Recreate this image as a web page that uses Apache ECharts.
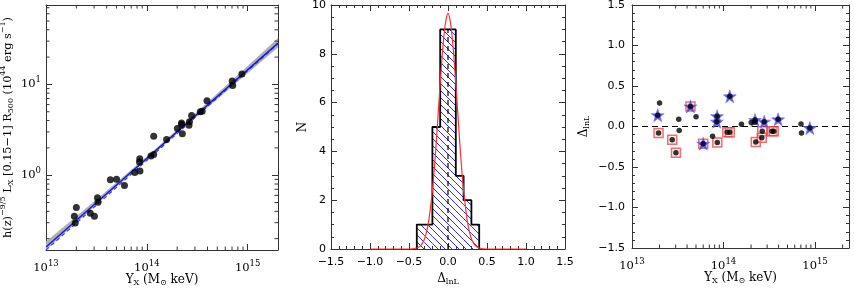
<!DOCTYPE html>
<html><head><meta charset="utf-8">
<script src="https://cdn.jsdelivr.net/npm/echarts@6/dist/echarts.min.js"></script>
<style>html,body{margin:0;padding:0;background:#fff}#c{width:854px;height:288px}</style>
</head><body><div id="c"></div>
<script>
// ---------- data ----------
const yx = [2.00e13, 1.91e13, 1.95e13, 2.75e13, 3.02e13, 3.24e13, 3.28e13, 4.35e13, 5.01e13, 6.0e13,
            7.59e13, 8.51e13, 8.45e13, 8.55e13, 1.10e14, 1.17e14, 1.17e14, 1.57e14, 2.01e14, 2.21e14,
            2.21e14, 2.25e14, 2.65e14, 2.62e14, 2.78e14, 3.39e14, 3.54e14, 3.95e14, 7.03e14, 7.11e14, 8.77e14];
const lx = [0.44, 0.354, 0.297, 0.38, 0.354, 0.566, 0.503, 0.889, 0.904, 0.771,
            1.07, 1.52, 1.40, 1.11, 1.63, 1.69, 2.68, 2.47, 3.26, 3.76,
            3.62, 2.87, 3.88, 3.54, 4.55, 4.99, 5.07, 6.63, 10.9, 9.75, 13.0];
const dlnl = [0.29, 0.14, -0.08, -0.164, -0.324, 0.088, -0.048, 0.248, 0.12, -0.212,
              -0.12, 0.128, 0.06, -0.196, -0.072, -0.072, 0.372, 0.028, 0.048, 0.08,
              0.052, -0.192, -0.06, -0.14, 0.06, -0.06, -0.06, 0.088, 0.032, -0.08, -0.02];
const isStar = [0,1,0,0,0,0,0,1,0,1, 0,1,1,0,0,0,1,0,0,1, 0,0,0,0,1,0,0,1,0,0,1];
const isBox  = [0,0,1,1,1,0,0,1,0,1, 0,0,0,1,1,1,0,0,0,0, 0,1,1,1,0,1,1,0,0,0,0];

const fitX = [1e13, 2e15];
const fitSolid = [0.162, 28.5];
const fitDashed = [0.150, 28.0];
const bandX  = [1e13, 3e13, 1e14, 3e14, 1e15, 2e15];
const bandLo = [0.150, 0.448, 1.47, 4.25, 13.3, 25.6];
const bandHi = [0.186, 0.512, 1.61, 4.76, 16.0, 32.5];

const binEdges  = [-0.4, -0.3, -0.2, -0.1, 0, 0.1, 0.2, 0.3, 0.4];
const binCounts = [1, 1, 5, 9, 9, 3, 2, 1];
const medianLine = [[0, 0], [0, 9]];
const gaussX = [-1.0, -0.5, -0.4, -0.35, -0.325, -0.3, -0.275, -0.25, -0.225, -0.2, -0.175, -0.15, -0.125, -0.1, -0.075, -0.05, -0.025, 0,
                0.025, 0.05, 0.075, 0.1, 0.125, 0.15, 0.175, 0.2, 0.225, 0.25, 0.275, 0.3, 0.325, 0.35, 0.4, 0.5, 1.0];
const gaussY = [0, 0, 0.04, 0.14, 0.25, 0.42, 0.7, 1.1, 1.7, 2.4, 3.3, 4.4, 5.6, 6.8, 7.9, 8.8, 9.4, 9.66,
                9.4, 8.8, 7.9, 6.8, 5.6, 4.4, 3.3, 2.4, 1.7, 1.1, 0.7, 0.42, 0.25, 0.14, 0.04, 0, 0];

const logXMinor = [2e13,3e13,4e13,5e13,6e13,7e13,8e13,9e13, 2e14,3e14,4e14,5e14,6e14,7e14,8e14,9e14, 2e15];
const logYMinor = [0.2,0.3,0.4,0.5,0.6,0.7,0.8,0.9, 2,3,4,5,6,7,8,9, 20,30,40,50,60,70];

// ---------- styling helpers ----------
const SERIF = "'DejaVu Serif','Liberation Serif',serif";
const SANS = "'DejaVu Sans',sans-serif";
const AX = '#333';

function powLabel(v) {
  const l = Math.log10(v), r = Math.round(l);
  if (Math.abs(l - r) > 1e-6) return '';
  return '{b|10}{s|' + (r < 0 ? '\u2212' + (-r) : r) + '}';
}
const powRich = {
  b: { fontSize: 11.5, fontFamily: SERIF, color: '#000' },
  s: { fontSize: 8.5, fontFamily: SERIF, color: '#000', padding: [0, 0, 9, 0] }
};
function decLabel(v) { const s = Math.abs(v).toFixed(1); return v < -1e-9 ? '\u2212' + s : s; }
const nameStyle = {
  fontFamily: SERIF, fontSize: 12, color: '#000',
  rich: {
    sub: { fontFamily: SERIF, fontSize: 8, color: '#000', padding: [6, 0, 0, 0] },
    sup: { fontFamily: SERIF, fontSize: 8, color: '#000', padding: [0, 0, 10, 0] }
  }
};

function axis(gridIndex, position, cfg, withLabels) {
  const a = {
    gridIndex, position, nameMoveOverlap: false,
    axisLine: { show: true, onZero: false, lineStyle: { color: AX, width: 1 } },
    axisTick: { show: true, inside: true, length: 6, lineStyle: { color: AX, width: 1 } },
    splitLine: { show: false },
    axisLabel: { show: false }
  };
  Object.assign(a, cfg);
  if (!withLabels) { a.name = ''; a.axisLabel = { show: false }; }
  return a;
}

const logX = (min, max) => ({ type: 'log', logBase: 10, min, max });
const linMinor = n => ({ show: true, splitNumber: n, length: 3, lineStyle: { color: AX, width: 1 } });

const xAxes = [
  axis(0, 'bottom', Object.assign(logX(1e13, 2e15), {
    axisLabel: { show: true, formatter: powLabel, rich: powRich, margin: 9 },
    name: 'Y{sub|X} (M{sub|\u2299} keV)', nameLocation: 'middle', nameGap: 23, nameTextStyle: nameStyle
  }), true),
  axis(0, 'top', logX(1e13, 2e15), false),
  axis(1, 'bottom', {
    type: 'value', min: -1.5, max: 1.5, interval: 0.5, minorTick: linMinor(5),
    axisLabel: { show: true, formatter: decLabel, fontFamily: SANS, fontSize: 11, color: '#000', margin: 8 },
    name: '\u0394{sub|lnL}', nameLocation: 'middle', nameGap: 23, nameTextStyle: nameStyle
  }, true),
  axis(1, 'top', { type: 'value', min: -1.5, max: 1.5, interval: 0.5, minorTick: linMinor(5) }, false),
  axis(2, 'bottom', Object.assign(logX(1e13, 2.35e15), {
    axisLabel: { show: true, formatter: powLabel, rich: powRich, margin: 9 },
    name: 'Y{sub|X} (M{sub|\u2299} keV)', nameLocation: 'middle', nameGap: 23, nameTextStyle: nameStyle
  }), true),
  axis(2, 'top', logX(1e13, 2.35e15), false)
];
const yAxes = [
  axis(0, 'left', Object.assign(logX(0.15, 75), {
    axisLabel: { show: true, formatter: powLabel, rich: powRich, margin: 5 },
    name: 'h(z){sup|\u22129/5} L{sub|X} [0.15\u22121] R{sub|500} (10{sup|44} erg s{sup|\u22121})',
    nameLocation: 'middle', nameRotate: 90, nameGap: 29, nameTextStyle: Object.assign({}, nameStyle, { fontSize: 11.3 })
  }), true),
  axis(0, 'right', logX(0.15, 75), false),
  axis(1, 'left', {
    type: 'value', min: 0, max: 10, interval: 2, minorTick: linMinor(4),
    axisLabel: { show: true, fontFamily: SANS, fontSize: 11, color: '#000', margin: 5 },
    name: 'N', nameLocation: 'middle', nameRotate: 90, nameGap: 22, nameTextStyle: nameStyle
  }, true),
  axis(1, 'right', { type: 'value', min: 0, max: 10, interval: 2, minorTick: linMinor(4) }, false),
  axis(2, 'left', {
    type: 'value', min: -1.5, max: 1.5, interval: 0.5, minorTick: linMinor(5),
    axisLabel: { show: true, formatter: decLabel, fontFamily: SANS, fontSize: 11, color: '#000', margin: 7 },
    name: '\u0394{sub|lnL}', nameLocation: 'middle', nameRotate: 90, nameGap: 41, nameTextStyle: nameStyle
  }, true),
  axis(2, 'right', { type: 'value', min: -1.5, max: 1.5, interval: 0.5, minorTick: linMinor(5) }, false)
];

// hatch pattern
const pc = document.createElement('canvas'); pc.width = 7; pc.height = 7;
const pg = pc.getContext('2d');
pg.strokeStyle = '#2b2be8'; pg.lineWidth = 1;
pg.beginPath(); pg.moveTo(-1, -1); pg.lineTo(8, 8); pg.moveTo(-1, 6); pg.lineTo(1, 8); pg.moveTo(6, -1); pg.lineTo(8, 1); pg.stroke();

// minor ticks for log axes (ax = axis index pair of the panel)
function xMinorSeries(ax, yRef) {
  return {
    type: 'custom', xAxisIndex: ax, yAxisIndex: ax, z: 5, silent: true,
    data: logXMinor.map(v => [v, yRef]),
    renderItem(params, api) {
      const cs = params.coordSys;
      const p = api.coord([api.value(0), yRef]);
      if (p[0] > cs.x + cs.width - 0.5) return null;
      const st = { stroke: AX, lineWidth: 1 };
      return { type: 'group', children: [
        { type: 'line', shape: { x1: p[0], y1: cs.y + cs.height, x2: p[0], y2: cs.y + cs.height - 3.5 }, style: st },
        { type: 'line', shape: { x1: p[0], y1: cs.y, x2: p[0], y2: cs.y + 3.5 }, style: st }
      ]};
    }
  };
}
function yMinorSeries(ax, xRef) {
  return {
    type: 'custom', xAxisIndex: ax, yAxisIndex: ax, z: 5, silent: true,
    data: logYMinor.map(v => [xRef, v]),
    renderItem(params, api) {
      const cs = params.coordSys;
      const p = api.coord([xRef, api.value(1)]);
      if (p[1] < cs.y + 0.5) return null;
      const st = { stroke: AX, lineWidth: 1 };
      return { type: 'group', children: [
        { type: 'line', shape: { x1: cs.x, y1: p[1], x2: cs.x + 3.5, y2: p[1] }, style: st },
        { type: 'line', shape: { x1: cs.x + cs.width, y1: p[1], x2: cs.x + cs.width - 3.5, y2: p[1] }, style: st }
      ]};
    }
  };
}

// histogram outline from bins
const outline = [];
binCounts.forEach((c, i) => { outline.push([binEdges[i], c], [binEdges[i + 1], c]); });
outline.unshift([binEdges[0], 0]); outline.push([binEdges[binEdges.length - 1], 0]);

const STAR = 'path://M12,0 L14.9,8.3 L23.4,8.3 L16.5,13.4 L19.1,21.6 L12,16.6 L4.9,21.6 L7.5,13.4 L0.6,8.3 L9.1,8.3 Z';

const series = [
  // mirror axes carriers (no marks)
  { type: 'line', xAxisIndex: 1, yAxisIndex: 1, data: [] },
  { type: 'line', xAxisIndex: 3, yAxisIndex: 3, data: [] },
  { type: 'line', xAxisIndex: 5, yAxisIndex: 5, data: [] },
  // ----- left panel -----
  {
    type: 'custom', xAxisIndex: 0, yAxisIndex: 0, silent: true, z: 1,
    data: [[bandX[0], bandLo[0]]],
    renderItem(params, api) {
      const pts = [];
      bandX.forEach((x, i) => pts.push(api.coord([x, bandHi[i]])));
      for (let i = bandX.length - 1; i >= 0; i--) pts.push(api.coord([bandX[i], bandLo[i]]));
      return { type: 'polygon', shape: { points: pts }, style: { fill: '#b0b0b0', stroke: null } };
    }
  },
  { type: 'line', xAxisIndex: 0, yAxisIndex: 0, symbol: 'none', z: 2,
    data: fitX.map((x, i) => [x, fitDashed[i]]),
    lineStyle: { color: '#3a3aff', width: 1.2, type: [4, 3] } },
  { type: 'line', xAxisIndex: 0, yAxisIndex: 0, symbol: 'none', z: 3,
    data: fitX.map((x, i) => [x, fitSolid[i]]),
    lineStyle: { color: '#1515f0', width: 1.4 } },
  { type: 'scatter', xAxisIndex: 0, yAxisIndex: 0, symbol: 'circle', symbolSize: 7, z: 4,
    data: yx.map((x, i) => [x, lx[i]]), itemStyle: { color: '#000' } },
  xMinorSeries(0, 1),
  yMinorSeries(0, 1e14),

  // ----- middle panel -----
  {
    type: 'custom', xAxisIndex: 2, yAxisIndex: 2, silent: true, z: 1,
    data: binCounts.map((c, i) => [binEdges[i], c, binEdges[i + 1]]),
    renderItem(params, api) {
      const p0 = api.coord([api.value(0), api.value(1)]);
      const p1 = api.coord([api.value(2), 0]);
      return { type: 'rect', shape: { x: p0[0], y: p0[1], width: p1[0] - p0[0], height: p1[1] - p0[1] },
               style: { fill: { image: pc, repeat: 'repeat' }, stroke: null } };
    }
  },
  { type: 'line', xAxisIndex: 2, yAxisIndex: 2, symbol: 'none', z: 3,
    data: outline, lineStyle: { color: '#000', width: 1.8 } },
  { type: 'line', xAxisIndex: 2, yAxisIndex: 2, symbol: 'none', z: 3,
    data: medianLine, lineStyle: { color: '#000', width: 1.2, type: [5, 4] } },
  { type: 'line', xAxisIndex: 2, yAxisIndex: 2, symbol: 'none', z: 4, smooth: 0.3,
    data: gaussX.map((x, i) => [x, gaussY[i]]), lineStyle: { color: '#ff3030', width: 1.2 } },

  // ----- right panel -----
  { type: 'line', xAxisIndex: 4, yAxisIndex: 4, symbol: 'none', z: 1,
    data: [[1e13, 0], [2.35e15, 0]], lineStyle: { color: '#000', width: 1.2, type: [6, 4] } },
  { type: 'scatter', xAxisIndex: 4, yAxisIndex: 4, symbol: 'rect', symbolSize: 9, z: 2,
    data: yx.map((x, i) => [x, dlnl[i]]).filter((d, i) => isBox[i]),
    itemStyle: { color: 'rgba(255,190,190,0.35)', borderColor: 'rgba(232,60,60,0.9)', borderWidth: 1.5 } },
  { type: 'scatter', xAxisIndex: 4, yAxisIndex: 4, symbol: STAR, symbolSize: 13, z: 3,
    data: yx.map((x, i) => [x, dlnl[i]]).filter((d, i) => isStar[i]),
    itemStyle: { color: 'rgba(40,40,225,0.95)', borderColor: 'rgba(120,120,255,0.8)', borderWidth: 1 } },
  { type: 'scatter', xAxisIndex: 4, yAxisIndex: 4, symbol: 'circle', symbolSize: 5.5, z: 4,
    data: yx.map((x, i) => [x, dlnl[i]]), itemStyle: { color: '#000' } },
  xMinorSeries(4, 0)
];

const chart = echarts.init(document.getElementById('c'), null, { renderer: 'canvas' });
chart.setOption({
  animation: false,
  backgroundColor: '#fff',
  grid: [
    { left: 46, top: 5, width: 232, height: 245, containLabel: false, outerBoundsMode: 'none' },
    { left: 331, top: 5, width: 234, height: 244, containLabel: false, outerBoundsMode: 'none' },
    { left: 632, top: 5, width: 217, height: 243, containLabel: false, outerBoundsMode: 'none' }
  ],
  xAxis: xAxes,
  yAxis: yAxes,
  series
});
</script></body></html>
